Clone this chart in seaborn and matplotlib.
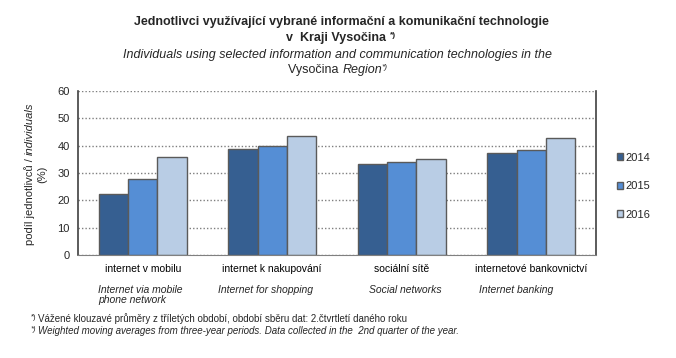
import numpy as np
import pandas as pd
import seaborn as sns
import matplotlib.pyplot as plt
from matplotlib.patches import Patch

# --- data ---
categories_cz = ['internet v mobilu', 'internet k nakupování', 'sociální sítě', 'internetové bankovnictví']
categories_en = ['Internet via mobile\nphone network', 'Internet for shopping', 'Social networks', 'Internet banking']
years = ['2014', '2015', '2016']
v2014 = [22.3, 38.8, 33.3, 37.3]
v2015 = [27.7, 39.9, 34.0, 38.4]
v2016 = [35.9, 43.5, 35.1, 42.8]
yticks = [0, 10, 20, 30, 40, 50, 60]

colors = ['#365F91', '#558ED5', '#B9CDE5']
edge = '#5A5A5A'

df = pd.DataFrame({
    'cat': categories_cz * 3,
    'year': [y for y in years for _ in categories_cz],
    'val': v2014 + v2015 + v2016,
})

sns.set_style('white')
plt.rcParams['font.family'] = ['Liberation Sans', 'DejaVu Sans']

W, H = 676, 358
fig = plt.figure(figsize=(W / 100, H / 100), dpi=100)
ax = fig.add_axes([78 / W, 1 - 255 / H, (596 - 78) / W, (255 - 91) / H])

sns.barplot(data=df, x='cat', y='val', hue='year', palette=colors, width=0.676,
            edgecolor=edge, linewidth=1.0, saturation=1, legend=False, ax=ax)

ax.set_ylim(0, 60)
ax.set_xlim(-0.5, len(categories_cz) - 0.5)
ax.set_yticks(yticks)
ax.set_yticklabels([str(t) for t in yticks], fontsize=8)
ax.set_xticks(np.arange(-0.5, len(categories_cz), 1.0))
ax.set_xticklabels([])
ax.tick_params(axis='x', length=5, color='#808080', direction='out', width=1)
ax.tick_params(axis='y', length=4, color='#404040', direction='out', width=1, pad=2)
ax.yaxis.grid(True, linestyle=(0, (1, 1.5)), color='#7F7F7F', linewidth=1)
ax.set_axisbelow(True)
ax.set_xlabel('')
ax.set_ylabel('')
for s in ['left', 'right']:
    ax.spines[s].set_color('#404040')
    ax.spines[s].set_linewidth(1.2)
ax.spines['bottom'].set_color('#808080')
ax.spines['top'].set_visible(False)

# category labels
for i, lab in enumerate(categories_cz):
    ax.text(i, -6.3, lab, ha='center', va='baseline', fontsize=7.5, color='black')
en_x = [98, 218, 369, 479]
for x, lab in zip(en_x, categories_en):
    fig.text(x / W, 1 - 285 / H, lab, ha='left', va='top', fontsize=7.5,
             style='italic', linespacing=1.0)

# legend
handles = [Patch(facecolor=c, edgecolor=edge, linewidth=1) for c in colors]
fig.legend(handles, years, loc='upper left', bbox_to_anchor=(611 / W, 1 - 147 / H),
           frameon=False, fontsize=8, handlelength=0.6, handleheight=0.6,
           handletextpad=0.2, labelspacing=1.67, borderpad=0)

renderer = fig.canvas.get_renderer()


def centered(x, y, parts):
    # pieces of text with different styles, centred as one line (pixel coords)
    objs = [fig.text(0, 0, txt, ha='left', va='baseline', **kw) for txt, kw, _ in parts]
    widths = [t.get_window_extent(renderer).width for t in objs]
    cx = x - sum(widths) / 2
    for t, w, (_, _, rise) in zip(objs, widths, parts):
        t.set_position((cx / W, 1 - (y - rise) / H))
        cx += w


centered(341, 25, [('Jednotlivci využívající vybrané informační a komunikační technologie',
                    dict(fontsize=9, weight='bold'), 0)])
centered(341, 41, [('v  Kraji Vysočina ', dict(fontsize=9, weight='bold'), 0),
                   ('*)', dict(fontsize=6, weight='bold'), 4)])
centered(338, 58, [('Individuals using selected information and communication technologies in the',
                    dict(fontsize=9, style='italic'), 0)])
centered(338, 73, [('Vysočina ', dict(fontsize=9), 0),
                   ('Region', dict(fontsize=9, style='italic'), 0),
                   ('*)', dict(fontsize=6, style='italic'), 4)])

# rotated y label with mixed styles
ya = fig.text(0, 0, 'podíl jednotlivců / ', fontsize=8, rotation=90,
              rotation_mode='anchor', ha='left', va='baseline')
yb = fig.text(0, 0, 'individuals', fontsize=8, style='italic', rotation=90,
              rotation_mode='anchor', ha='left', va='baseline')
ha_ = ya.get_window_extent(renderer).height
hb_ = yb.get_window_extent(renderer).height
ystart = 174 + (ha_ + hb_) / 2
ya.set_position((33 / W, 1 - ystart / H))
yb.set_position((33 / W, 1 - (ystart - ha_) / H))
fig.text(45 / W, 1 - 174 / H, '(%)', fontsize=8, rotation=90, rotation_mode='anchor',
         ha='center', va='baseline')

# footnotes
fig.text(31 / W, 1 - 319 / H, '*)', fontsize=5.5, ha='left', va='baseline')
fig.text(38 / W, 1 - 322 / H, 'Vážené klouzavé průměry z tříletých období, období sběru dat: 2.čtvrtletí daného roku',
         fontsize=7, ha='left', va='baseline')
fig.text(31 / W, 1 - 331 / H, '*)', fontsize=5.5, style='italic', ha='left', va='baseline')
fig.text(38 / W, 1 - 334 / H, 'Weighted moving averages from three-year periods. Data collected in the  2nd quarter of the year.',
         fontsize=7, style='italic', ha='left', va='baseline')

fig.savefig('out.png', dpi=100)
